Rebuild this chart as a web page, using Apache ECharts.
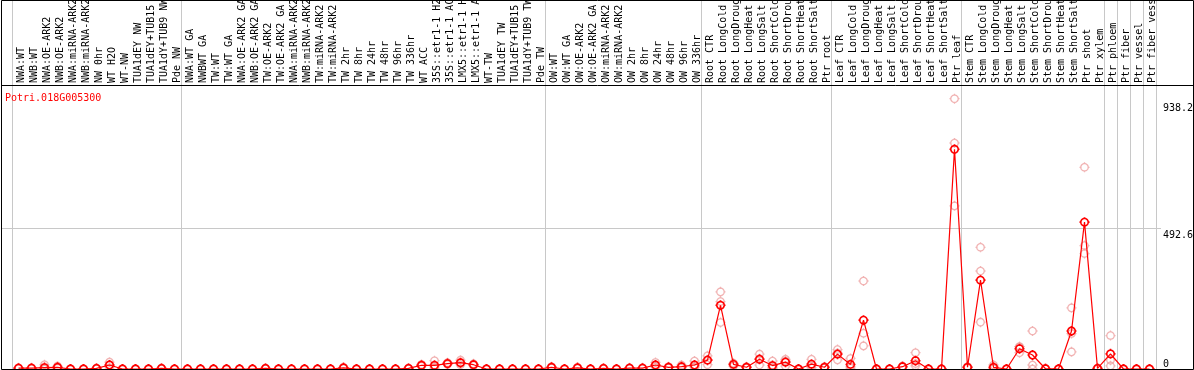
<!DOCTYPE html>
<html><head><meta charset="utf-8">
<script src="https://cdn.jsdelivr.net/npm/echarts@6/dist/echarts.min.js"></script>
<style>html,body{margin:0;padding:0;background:#fff}#c{width:1194px;height:370px}</style>
</head><body><div id="c"></div>
<script>
const geneTitle = 'Potri.018G005300';

const categories = [
  'NWA:WT','NWB:WT','NWA:OE-ARK2','NWB:OE-ARK2','NWA:miRNA-ARK2','NWB:miRNA-ARK2','NW 0hr','WT H2O','WT-NW',
  'TUA1dEY NW','TUA1dEY+TUB15 NW','TUA1dY+TUB9 NW','Pde NW',
  'NWA:WT GA','NWBWT GA','TW:WT','TW:WT GA','NWA:OE-ARK2 GA','NWB:OE-ARK2 GA','TW:OE-ARK2','TW:OE-ARK2 GA',
  'NWA:miRNA-ARK2','NWB:miRNA-ARK2','TW:miRNA-ARK2','TW:miRNA-ARK2','TW 2hr','TW 8hr','TW 24hr','TW 48hr','TW 96hr','TW 336hr',
  'WT ACC','35S::etr1-1 H2O','35S::etr1-1 ACC','LMX5::etr1-1 H2O','LMX5::etr1-1 ACC','WT-TW','TUA1dEY TW','TUA1dEY+TUB15 TW','TUA1dY+TUB9 TW','Pde TW',
  'OW:WT','OW:WT GA','OW:OE-ARK2','OW:OE-ARK2 GA','OW:miRNA-ARK2','OW:miRNA-ARK2','OW 2hr','OW 8hr','OW 24hr','OW 48hr','OW 96hr','OW 336hr',
  'Root CTR','Root LongCold','Root LongDrought','Root LongHeat','Root LongSalt','Root ShortCold','Root ShortDrought','Root ShortHeat','Root ShortSalt','Ptr root',
  'Leaf CTR','Leaf LongCold','Leaf LongDrought','Leaf LongHeat','Leaf LongSalt','Leaf ShortCold','Leaf ShortDrought','Leaf ShortHeat','Leaf ShortSalt','Ptr leaf',
  'Stem CTR','Stem LongCold','Stem LongDrought','Stem LongHeat','Stem LongSalt','Stem ShortCold','Stem ShortDrought','Stem ShortHeat','Stem ShortSalt',
  'Ptr shoot','Ptr xylem','Ptr phloem','Ptr fiber','Ptr vessel','Ptr fiber vessel'
];

// mean expression per sample
const meanValues = [
  3,3,5,6,0,0,2,14,0,0,0,2,0,
  0,0,0,0,0,0,2,0,0,0,0,0,4,0,0,0,0,2,13,13,19,22,15,0,0,0,0,0,
  6,0,4,0,2,0,3,3,14,6,8,14,
  31,223,16,6,34,12,24,0,17,6,
  52,16,171,0,0,8,29,0,0,769,
  6,311,6,0,71,49,1,0,133,
  514,2,53,0,0,0
];

// replicate values
const rep1 = [
  4,4,15,10,0,0,3,24,0,0,0,3,0,
  0,0,0,0,0,0,3,0,0,0,0,0,6,0,0,0,0,3,16,29,22,31,18,0,0,0,0,0,
  8,0,6,0,3,0,4,4,23,8,14,28,
  46,270,20,8,52,28,34,0,34,8,
  68,37,308,0,0,10,57,0,0,946,
  8,426,14,0,78,133,2,0,214,
  706,3,117,0,0,0
];
const rep2 = [
  3,3,0,5,0,0,2,14,0,0,0,2,0,
  0,0,0,0,0,0,2,0,0,0,0,0,4,0,0,0,0,2,13,8,19,20,15,0,0,0,0,0,
  6,0,4,0,2,0,3,3,12,6,6,8,
  32,236,18,6,36,6,28,0,12,6,
  56,8,125,0,0,8,19,0,0,791,
  6,343,3,0,78,14,1,0,124,
  432,2,31,0,0,0
];
const rep3 = [
  2,2,0,3,0,0,1,4,0,0,0,1,0,
  0,0,0,0,0,0,1,0,0,0,0,0,2,0,0,0,0,1,10,2,16,15,12,0,0,0,0,0,
  4,0,2,0,1,0,2,2,7,4,4,6,
  15,163,10,4,14,2,10,0,5,4,
  32,3,81,0,0,6,11,0,0,571,
  4,164,1,0,57,0,0,0,60,
  404,1,11,0,0,0
];

const groupStarts = [0,13,41,53,63,73,84,85,86,87];
const yTickValues = [0, 492.6, 938.2];
const gridLineValue = 492.6;
const yMax = 994;

const FONT = 'DejaVu Sans Mono';

// marker glyph: ring with four small ticks (symbol styling only)
function buildMarkerPath() {
  const n = 32, r = 3.7, c = 5;
  let d = '';
  for (let k = 0; k <= n; k++) {
    const a = 2 * Math.PI * k / n;
    d += (k === 0 ? 'M' : 'L') + (c + r * Math.cos(a)).toFixed(3) + ',' + (c + r * Math.sin(a)).toFixed(3) + ' ';
  }
  d += 'Z M5,0 L5,1.3 M5,8.7 L5,10 M0,5 L1.3,5 M8.7,5 L10,5';
  return 'path://' + d;
}
const markerPath = buildMarkerPath();

const repData = [];
[rep1, rep2, rep3].forEach(arr => arr.forEach((v, i) => repData.push([i, v])));

const chart = echarts.init(document.getElementById('c'), null, {renderer: 'canvas'});
const splitFn = (idx) => groupStarts.indexOf(idx) >= 0;

chart.setOption({
  animation: false,
  backgroundColor: '#fff',
  title: {
    text: geneTitle, left: 5, top: 93, padding: 0,
    textStyle: {color: '#ff0000', fontSize: 10, fontFamily: FONT, fontWeight: 'normal'}
  },
  grid: [
    {left: 12, top: 85, width: 1144, height: 284, outerBoundsMode: 'none', containLabel: false},
    {left: 12, top: 0, width: 1144, height: 85, outerBoundsMode: 'none', containLabel: false}
  ],
  xAxis: [
    {
      type: 'category', gridIndex: 0, position: 'top', data: categories, boundaryGap: true,
      axisLine: {show: false}, axisTick: {show: false},
      axisLabel: {
        interval: 0, rotate: 90, margin: 2, fontFamily: FONT, fontSize: 10, color: '#000',
        formatter: (v) => '{c|' + v + '}',
        rich: {c: {fontFamily: FONT, fontSize: 10, color: '#000', lineHeight: 12, padding: [5, 0, 0, 0]}}
      },
      splitLine: {show: true, interval: splitFn, lineStyle: {color: '#c8c8c8', width: 1}}
    },
    {
      type: 'category', gridIndex: 1, data: categories, boundaryGap: true,
      axisLine: {show: false}, axisTick: {show: false}, axisLabel: {show: false},
      splitLine: {show: true, interval: splitFn, lineStyle: {color: '#c8c8c8', width: 1}}
    }
  ],
  yAxis: [
    {
      type: 'value', gridIndex: 0, position: 'right', min: 0, max: yMax,
      axisLine: {show: false}, axisTick: {show: false}, splitLine: {show: false},
      axisLabel: {customValues: yTickValues.filter(v => v > 0), align: 'left', verticalAlign: 'top', margin: 7,
        fontFamily: FONT, fontSize: 10, color: '#000',
        formatter: (v) => '{t|' + v + '}',
        rich: {t: {fontFamily: FONT, fontSize: 10, color: '#000', lineHeight: 12, padding: [2, 0, 0, 0]}}}
    },
    {
      type: 'value', gridIndex: 0, position: 'right', min: 0, max: yMax,
      axisLine: {show: false}, axisTick: {show: false}, splitLine: {show: false},
      axisLabel: {customValues: yTickValues.filter(v => v === 0), align: 'left', verticalAlign: 'bottom', margin: 7,
        fontFamily: FONT, fontSize: 10, color: '#000'}
    },
    {type: 'value', gridIndex: 1, show: false}
  ],
  series: [
    {
      name: 'replicates', type: 'scatter', xAxisIndex: 0, yAxisIndex: 0, data: repData,
      symbol: markerPath, symbolSize: 10, z: 3, clip: false,
      itemStyle: {color: 'rgba(0,0,0,0)', borderColor: '#eea0a0', borderWidth: 1.3}
    },
    {
      name: 'mean', type: 'line', xAxisIndex: 0, yAxisIndex: 0, data: meanValues,
      symbol: markerPath, symbolSize: 10, showAllSymbol: true, z: 4, clip: false,
      lineStyle: {color: '#ff0000', width: 1.2},
      itemStyle: {color: 'rgba(0,0,0,0)', borderColor: '#ff0000', borderWidth: 1.6}
    }
  ]
});

const gy = chart.convertToPixel({yAxisIndex: 0}, gridLineValue);
chart.setOption({
  graphic: [
    {type: 'line', z: 1, silent: true, shape: {x1: 1, y1: Math.round(gy) + 0.5, x2: 1161, y2: Math.round(gy) + 0.5},
      style: {stroke: '#c8c8c8', lineWidth: 1}},
    {type: 'line', z: 10, silent: true, shape: {x1: 1, y1: 85.5, x2: 1194, y2: 85.5},
      style: {stroke: '#000', lineWidth: 1}},
    {type: 'rect', z: 10, silent: true, shape: {x: 1.5, y: 0.5, width: 1192, height: 369},
      style: {stroke: '#000', fill: 'none', lineWidth: 1}}
  ]
});
</script>
</body></html>
